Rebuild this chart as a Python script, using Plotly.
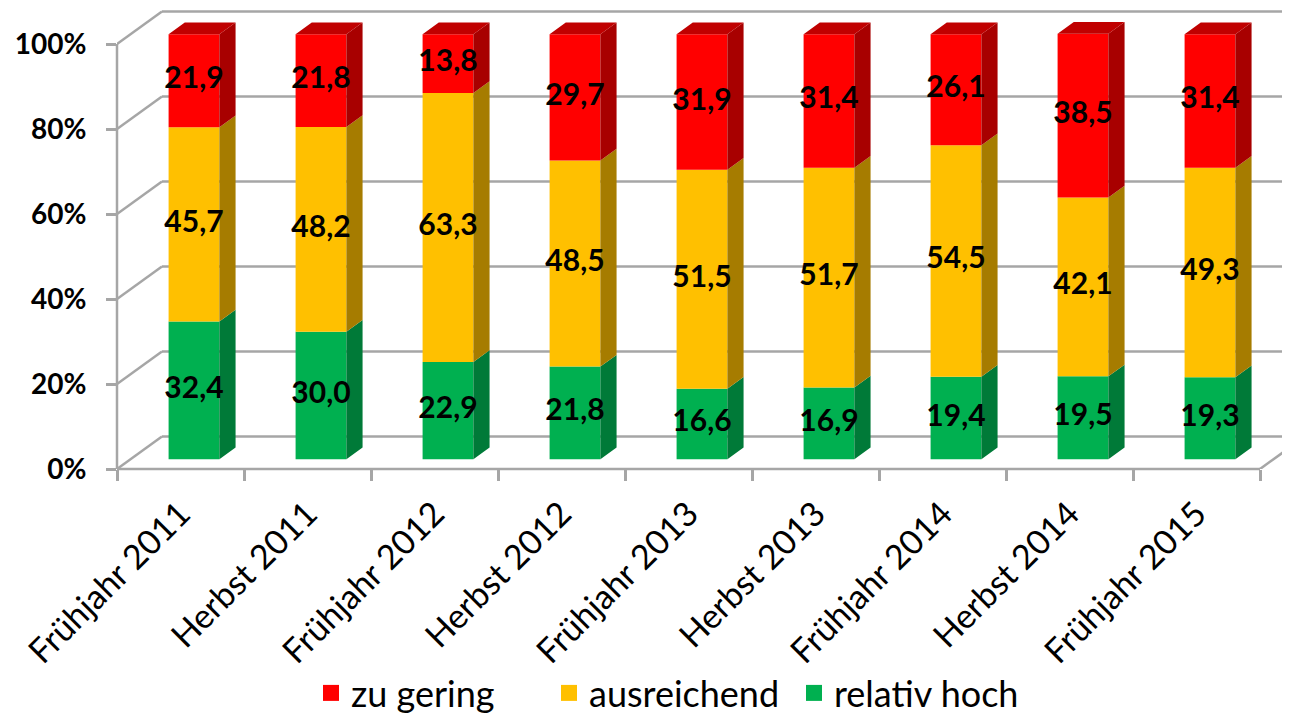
import plotly.graph_objects as go

categories = ["Frühjahr 2011", "Herbst 2011", "Frühjahr 2012", "Herbst 2012", "Frühjahr 2013",
              "Herbst 2013", "Frühjahr 2014", "Herbst 2014", "Frühjahr 2015"]
relativ_hoch = [32.4, 30.0, 22.9, 21.8, 16.6, 16.9, 19.4, 19.5, 19.3]
ausreichend = [45.7, 48.2, 63.3, 48.5, 51.5, 51.7, 54.5, 42.1, 49.3]
zu_gering = [21.9, 21.8, 13.8, 29.7, 31.9, 31.4, 26.1, 38.5, 31.4]
y_ticks = [0, 20, 40, 60, 80, 100]
y_labels = ["0%", "20%", "40%", "60%", "80%", "100%"]

# name, values, front / side / top colour, legend entry width
series = [
    ("relativ hoch", relativ_hoch, "#00B050", "#007A38", "#008C42", 190),
    ("ausreichend", ausreichend, "#FFC000", "#A67C00", "#C99700", 200),
    ("zu gering", zu_gering, "#FF0000", "#A80000", "#C00000", 193),
]

FONT = "Lato"
GRID = "#A6A6A6"

# the page adds an 8px body margin, so the figure is a bit smaller
W, H = 1282, 710
PLOT_W, PLOT_H = 1173, 461

# fake 3d: depth of the box in axis units
DX, DY = 0.354, 7.65
BAR_OFF = 0.30     # where the bar front sits inside the depth
BAR_DEPTH = 0.36
BAR_W = 0.40
XMIN, XMAX = -0.5, -0.5 + PLOT_W / 127
YMAX = PLOT_H / 4.25

n = len(categories)
ox, oy = BAR_OFF * DX, BAR_OFF * DY
sx, sy = BAR_DEPTH * DX, BAR_DEPTH * DY

fig = go.Figure()

base = [0.0] * n
for name, vals, front, side, top, lw in series:
    xs = [i + ox for i in range(n)]
    fig.add_trace(go.Bar(x=xs, y=vals, base=[b + oy for b in base], width=BAR_W,
                         marker=dict(color=front, line=dict(width=0)),
                         showlegend=False, hoverinfo="skip"))
    # right side faces
    px, py = [], []
    for i in range(n):
        xr = i + ox + BAR_W / 2
        b0, b1 = base[i] + oy, base[i] + vals[i] + oy
        px += [xr, xr + sx, xr + sx, xr, xr, None]
        py += [b0, b0 + sy, b1 + sy, b1, b0, None]
    fig.add_trace(go.Scatter(x=px, y=py, mode="lines", fill="toself", fillcolor=side,
                             line=dict(width=0, color=side), showlegend=False, hoverinfo="skip"))
    # labels
    fig.add_trace(go.Scatter(x=xs, y=[base[i] + oy + vals[i] / 2 for i in range(n)],
                             text=[f"{v:.1f}".replace(".", ",") for v in vals], mode="text",
                             textfont=dict(family=FONT, size=30, color="black", weight="bold"),
                             showlegend=False, hoverinfo="skip"))
    base = [base[i] + vals[i] for i in range(n)]

# top faces
tx, ty = [], []
for i in range(n):
    xl, xr = i + ox - BAR_W / 2, i + ox + BAR_W / 2
    t = base[i] + oy
    tx += [xl, xl + sx, xr + sx, xr, xl, None]
    ty += [t, t + sy, t + sy, t, t, None]
fig.add_trace(go.Scatter(x=tx, y=ty, mode="lines", fill="toself", fillcolor=series[-1][4],
                         line=dict(width=0, color=series[-1][4]), showlegend=False, hoverinfo="skip"))

# legend entries
for name, vals, front, side, top, lw in reversed(series):
    fig.add_trace(go.Scatter(x=[None], y=[None], mode="markers", name=name, xaxis="x2",
                             legendwidth=lw,
                             marker=dict(symbol="square", size=16, color=front, line=dict(width=0))))

# walls and grid
shapes = []
for v in y_ticks:
    shapes.append(dict(type="line", xref="x", yref="y", x0=XMIN + DX, x1=XMAX + 1,
                       y0=v + DY, y1=v + DY, line=dict(color=GRID, width=2.5), layer="below"))
    shapes.append(dict(type="line", xref="x", yref="y", x0=XMIN, x1=XMIN + DX,
                       y0=v, y1=v + DY, line=dict(color=GRID, width=2.5), layer="below"))
shapes.append(dict(type="line", xref="x", yref="y", x0=n - 0.5, x1=n - 0.5 + DX,
                   y0=0, y1=DY, line=dict(color=GRID, width=2.5), layer="below"))
shapes.append(dict(type="line", xref="paper", yref="paper", x0=0, x1=(n - 0.5 - XMIN) / (XMAX - XMIN),
                   y0=0, y1=0, line=dict(color=GRID, width=2.5), layer="below"))
shapes.append(dict(type="line", xref="paper", yref="paper", x0=0, x1=0,
                   y0=0, y1=100 / YMAX, line=dict(color=GRID, width=2.5), layer="below"))

fig.update_layout(
    width=W, height=H,
    margin=dict(l=W - PLOT_W, r=0, t=0, b=H - PLOT_H, autoexpand=False),
    paper_bgcolor="white", plot_bgcolor="white",
    barmode="overlay",
    shapes=shapes,
    font=dict(family=FONT, color="black"),
    xaxis=dict(range=[XMIN, XMAX], tickvals=list(range(n)), ticktext=categories, tickangle=-45,
               ticks="", showgrid=False, zeroline=False, showline=False, automargin=False,
               ticklabelstandoff=17,
               tickfont=dict(family=FONT, size=34, color="black")),
    xaxis2=dict(overlaying="x", anchor="y", side="bottom", range=[XMIN, XMAX],
                tickvals=[i - 0.5 for i in range(n + 1)], ticks="outside", ticklen=11,
                tickwidth=2.5, tickcolor=GRID, showticklabels=False, showgrid=False,
                zeroline=False, showline=False),
    yaxis=dict(range=[0, YMAX], tickvals=y_ticks, ticktext=y_labels, ticks="outside",
               ticklen=10, tickwidth=2.5, tickcolor=GRID, showgrid=False, zeroline=False,
               showline=False, ticklabelstandoff=14, automargin=False,
               tickfont=dict(family=FONT, size=28, color="black", weight="bold")),
    legend=dict(orientation="h", x=(303 - (W - PLOT_W)) / PLOT_W, xanchor="left",
                y=(PLOT_H - 685) / PLOT_H, yanchor="middle",
                font=dict(family=FONT, size=36, color="black"), traceorder="normal"),
    showlegend=True,
)

fig.write_html("out.html")
